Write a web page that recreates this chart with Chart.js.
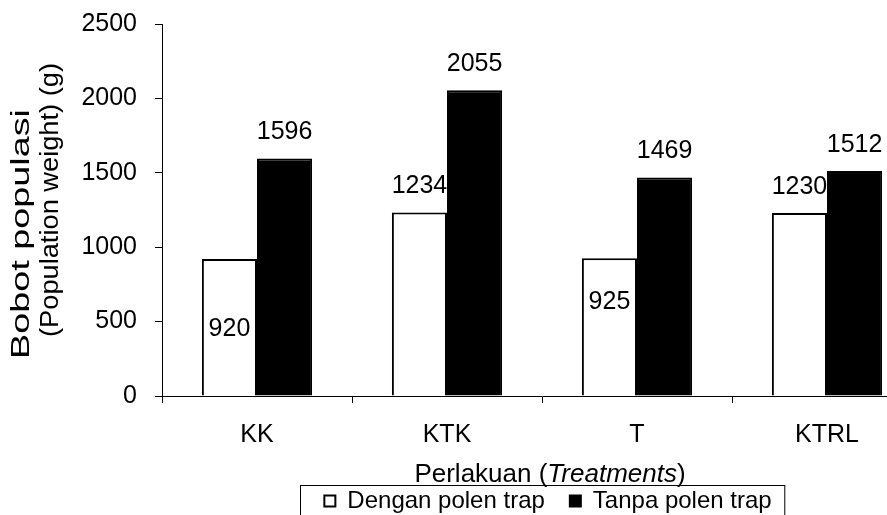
<!DOCTYPE html>
<html>
<head>
<meta charset="utf-8">
<script src="https://cdn.jsdelivr.net/npm/chart.js@4.4.0/dist/chart.umd.min.js"></script>
<style>
  html, body { margin: 0; padding: 0; background: #fff; overflow: hidden; }
  #wrap { position: relative; width: 1096px; height: 523px; }
</style>
</head>
<body>
<div id="wrap"><canvas id="chart"></canvas></div>
<script>
const categories = ["KK", "KTK", "T", "KTRL"];
const seriesNames = ["Dengan polen trap", "Tanpa polen trap"];
const denganValues = [920, 1234, 925, 1230];
const tanpaValues = [1596, 2055, 1469, 1512];
const yTicks = [0, 500, 1000, 1500, 2000, 2500];

// where each value label sits, px from the top of its bar (+ = down)
const denganLabelShift = [70, -26, 44, -26];
const tanpaLabelShift = [-26, -26, -26, -26];

const FONT = "'Liberation Sans', Arial, sans-serif";
Chart.defaults.font.family = FONT;
Chart.defaults.color = "#000";

const valueLabels = {
  id: "valueLabels",
  afterDatasetsDraw(chart) {
    const ctx = chart.ctx;
    const shifts = [denganLabelShift, tanpaLabelShift];
    ctx.save();
    ctx.font = `25px ${FONT}`;
    ctx.fillStyle = "#000";
    ctx.textAlign = "center";
    ctx.textBaseline = "middle";
    chart.data.datasets.forEach((ds, di) => {
      chart.getDatasetMeta(di).data.forEach((bar, i) => {
        ctx.save();
        if (di === 0) {
          // white labels run under the black bar next to them
          ctx.beginPath();
          ctx.rect(0, 0, bar.x + bar.width / 2, chart.height);
          ctx.clip();
        }
        ctx.fillText(String(ds.data[i]), bar.x, bar.y + shifts[di][i]);
        ctx.restore();
      });
    });
    ctx.restore();
  },
};

const axisTitles = {
  id: "axisTitles",
  afterDraw(chart) {
    const ctx = chart.ctx;
    ctx.save();
    ctx.fillStyle = "#000";
    ctx.textAlign = "center";
    ctx.textBaseline = "middle";
    ctx.font = `25px ${FONT}`;
    const yLines = [
      ["Bobot populasi", 22, 234, 250],
      ["(Population weight) (g)", 51, 200, 274],
    ];
    yLines.forEach(([text, x, y, len]) => {
      const w = ctx.measureText(text).width;
      ctx.save();
      ctx.translate(x, y);
      ctx.rotate(-Math.PI / 2);
      ctx.scale(len / w, 1);
      ctx.fillText(text, 0, 0);
      ctx.restore();
    });

    const parts = [
      ["Perlakuan (", ""],
      ["Treatments", "italic "],
      [")", ""],
    ];
    ctx.textAlign = "left";
    ctx.textBaseline = "alphabetic";
    let total = 0;
    parts.forEach(([t, s]) => {
      ctx.font = `${s}26px ${FONT}`;
      total += ctx.measureText(t).width;
    });
    let x = 550 - total / 2;
    parts.forEach(([t, s]) => {
      ctx.font = `${s}26px ${FONT}`;
      ctx.fillText(t, x, 482);
      x += ctx.measureText(t).width;
    });
    ctx.restore();
  },
};

const legendFrame = {
  id: "legendFrame",
  afterDraw(chart) {
    const boxes = chart.legend && chart.legend.legendHitBoxes;
    if (!boxes || !boxes.length) return;
    const first = boxes[0];
    const last = boxes[boxes.length - 1];
    const left = first.left - 24;
    const right = last.left + last.width + 13;
    const top = first.top + first.height / 2 - 16;
    const ctx = chart.ctx;
    ctx.save();
    ctx.strokeStyle = "#000";
    ctx.lineWidth = 1;
    ctx.strokeRect(Math.round(left) + 0.5, Math.round(top) + 0.5, right - left, 80);
    ctx.restore();
  },
};

new Chart(document.getElementById("chart"), {
  type: "bar",
  data: {
    labels: categories,
    datasets: [
      {
        label: seriesNames[0],
        data: denganValues,
        backgroundColor: "#fff",
        borderColor: "#000",
        borderWidth: 2,
      },
      {
        label: seriesNames[1],
        data: tanpaValues,
        backgroundColor: "#000",
        borderColor: "#000",
        borderWidth: 2,
      },
    ],
  },
  options: {
    responsive: true,
    maintainAspectRatio: false,
    devicePixelRatio: 1,
    animation: false,
    layout: { padding: { top: 24, left: 0, right: 0, bottom: 0 } },
    datasets: {
      bar: { categoryPercentage: 0.58, barPercentage: 1.0 },
    },
    plugins: {
      tooltip: { enabled: false },
      legend: {
        position: "bottom",
        labels: {
          boxWidth: 11,
          boxHeight: 11,
          padding: 25,
          color: "#000",
          font: { size: 24 },
        },
      },
    },
    scales: {
      x: {
        grid: {
          drawOnChartArea: false,
          color: "#000",
          tickLength: 7,
        },
        border: { color: "#000", width: 1 },
        ticks: { color: "#000", padding: 17, font: { size: 25 } },
        afterFit: (s) => {
          s.height = 68;
        },
      },
      y: {
        min: 0,
        max: 2500,
        afterBuildTicks: (s) => {
          s.ticks = yTicks.map((v) => ({ value: v }));
        },
        grid: {
          drawOnChartArea: false,
          color: "#000",
          tickLength: 7,
        },
        border: { color: "#000", width: 1 },
        ticks: {
          color: "#000",
          padding: 18,
          font: { size: 25 },
          callback: (v) => String(v),
        },
        afterFit: (s) => {
          s.width = 162;
          s.paddingTop = 0;
          s.paddingBottom = 0;
        },
      },
      spacer: {
        type: "linear",
        position: "right",
        display: true,
        grid: { display: false },
        border: { display: false },
        ticks: { display: false },
        afterFit: (s) => {
          s.width = 174;
        },
      },
    },
  },
  plugins: [valueLabels, axisTitles, legendFrame],
});
</script>
</body>
</html>
